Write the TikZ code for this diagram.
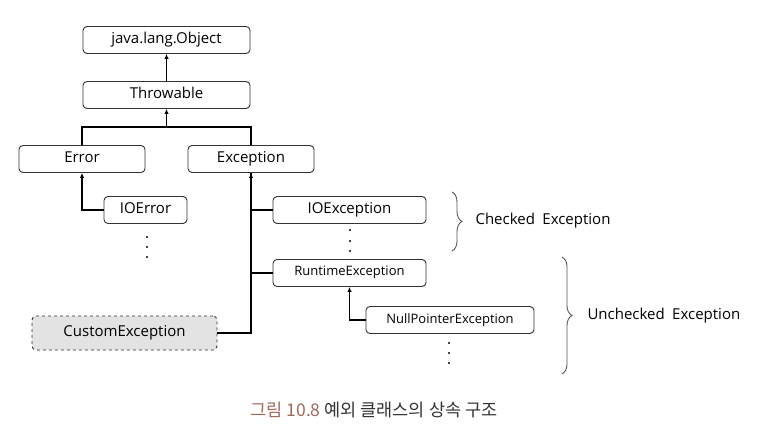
\documentclass[tikz,border=0pt]{standalone}
\usepackage{fontspec}
\setmainfont{Open Sans}
\newfontfamily\krfont{Noto Sans CJK KR}
\usetikzlibrary{arrows.meta,positioning,decorations.pathreplacing}
\definecolor{clsline}{HTML}{333333}
\definecolor{clsgray}{HTML}{E3E3E3}
\definecolor{bracegray}{HTML}{555555}
\definecolor{capbrown}{HTML}{A0695A}
\definecolor{captext}{HTML}{333333}
\tikzset{
  cls/.style={
    draw=clsline,
    rounded corners=4pt,
    line width=0.9pt,
    minimum height=27pt,
    inner sep=2pt,
    text height=10pt,
    text depth=3pt,
    font=\fontsize{15}{17}\selectfont
  },
  smallcls/.style={
    cls,
    text height=9pt,
    font=\fontsize{13}{15}\selectfont
  },
  customcls/.style={
    cls,
    dashed,
    fill=clsgray,
    minimum height=34pt
  },
  link/.style={
    line width=1.3pt,
    draw=black
  },
  arrow/.style={
    link,
    -{Latex[length=5pt,width=4.5pt]}
  },
  bracket/.style={
    draw=bracegray,
    line width=0.9pt,
    decorate,
    decoration={brace,amplitude=10pt}
  },
  note/.style={
    font=\fontsize{15}{17}\selectfont,
    anchor=west
  },
  dotmark/.style={
    fill=black
  }
}
\begin{document}
\begin{tikzpicture}[x=1pt,y=-1pt]
\useasboundingbox (0,0) rectangle (776,446);

\node[cls, minimum width=167pt] (object) at (166.5,40) {java.lang.Object};
\node[cls, minimum width=167pt] (throwable) at (166.5,95) {Throwable};
\node[cls, minimum width=126pt] (error) at (82,159) {Error};
\node[cls, minimum width=126pt] (exception) at (251,159) {Exception};

\node[cls, minimum width=83pt] (ioerror) at (145.5,210) {IOError};
\node[cls, minimum width=153pt] (ioexception) at (349.5,210) {IOException};
\node[smallcls, minimum width=153pt] (runtime) at (349.5,273) {RuntimeException};
\node[smallcls, minimum width=168pt] (nullpointer) at (450,320) {NullPointerException};
\node[customcls, minimum width=185pt] (custom) at (124.5,333) {CustomException};

% dots for omitted subclasses
\foreach \y in {237,247,257} \fill[dotmark] (147,\y) circle (1.1pt);
\foreach \y in {230,241,251} \fill[dotmark] (350,\y) circle (1.1pt);
\foreach \y in {343,353,363} \fill[dotmark] (449,\y) circle (1.1pt);

% connectors
\coordinate (bus) at (166.5,127);
\draw[arrow] (object.south |- throwable.north) -- (object.south);
\draw[link] (error.north) -- (error.north |- bus) -- (exception.north |- bus) -- (exception.north);
\draw[arrow] (bus) -- (throwable.south);
\draw[arrow] (ioerror.west) -| (error.south);
\draw[link] (ioexception.west) -| (exception.south);
\draw[link] (runtime.west) -| (exception.south);
\draw[arrow] (custom.east) -| (exception.south);
\draw[arrow] (nullpointer.west) -| (runtime.south);

% checked / unchecked groups
\coordinate (chktop) at (452,192);
\coordinate (chkbot) at (452,251);
\coordinate (unctop) at (562,257);
\coordinate (uncbot) at (562,374);
\draw[bracket] (chktop) -- (chkbot);
\draw[bracket] (unctop) -- (uncbot);
\node[note] (checked) at (472,221) {Checked\enspace Exception};
\node[note] (unchecked) at (584,316) {Unchecked\enspace Exception};

\node[anchor=west, font=\krfont\fontsize{17.5}{20}\selectfont] (caption) at (247,410)
  {\textcolor{capbrown}{그림 10.8} \textcolor{captext}{예외 클래스의 상속 구조}};

\end{tikzpicture}
\end{document}
